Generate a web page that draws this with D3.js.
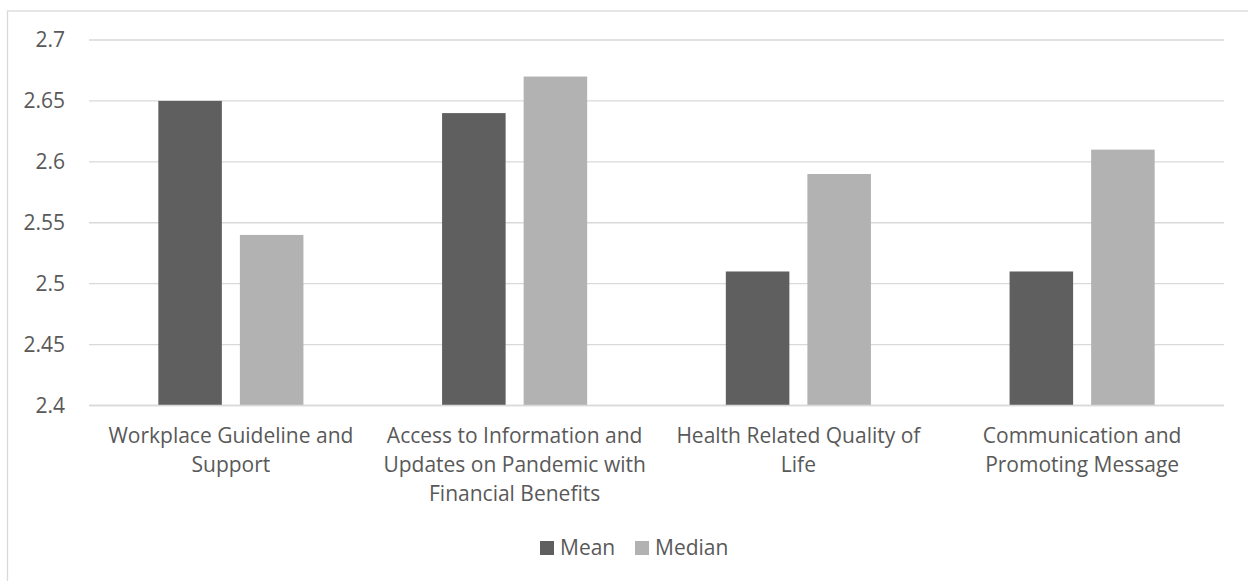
<!DOCTYPE html>
<html><head><meta charset="utf-8">
<script src="https://cdn.jsdelivr.net/npm/d3@7"></script>
<style>body{margin:0;background:#fff}svg{display:block}text{font-family:"Open Sans",sans-serif;fill:#595959}</style>
</head><body>
<svg id="c" width="1248" height="581"></svg>
<script>
const categories = ["Workplace Guideline and Support","Access to Information and Updates on Pandemic with Financial Benefits","Health Related Quality of Life","Communication and Promoting Message"];
const categoryLines = [["Workplace Guideline and","Support"],["Access to Information and","Updates on Pandemic with","Financial Benefits"],["Health Related Quality of","Life"],["Communication and","Promoting Message"]];
const seriesNames = ["Mean","Median"];
const meanValues = [2.65,2.64,2.51,2.51];
const medianValues = [2.54,2.67,2.59,2.61];
const yTicks = [2.4,2.45,2.5,2.55,2.6,2.65,2.7];
const colors = ["#5f5f5f","#b2b2b2"];

const svg = d3.select("#c");
const fs = 21;
svg.append("rect").attr("x",7.5).attr("y",11).attr("width",1300).attr("height",700)
  .attr("fill","none").attr("stroke","#d9d9d9").attr("stroke-width",1.3);

const pL=89,pR=1224,pT=40,pB=405.5;
const x = d3.scaleBand().domain(categories).range([pL,pR]).paddingInner(0).paddingOuter(0);
const inner = d3.scaleBand().domain(seriesNames).range([0,x.bandwidth()]).paddingInner(0.221).paddingOuter(0.85);
const y = d3.scaleLinear().domain([2.4,2.7]).range([pB,pT]);

const grid = svg.append("g");
grid.selectAll("line").data(yTicks).join("line")
  .attr("x1",pL).attr("x2",pR).attr("y1",d=>y(d)).attr("y2",d=>y(d))
  .attr("stroke","#d9d9d9").attr("stroke-width",1.3);

svg.append("g").selectAll("text").data(yTicks).join("text")
  .attr("x",65).attr("y",d=>y(d)).attr("dy","0.35em").attr("text-anchor","end")
  .attr("font-size",fs).text(d=>d3.format("")(d));

const rows = categories.map((c,i)=>({c, vals:[{s:"Mean",v:meanValues[i]},{s:"Median",v:medianValues[i]}]}));
const g = svg.append("g").selectAll("g").data(rows).join("g").attr("transform",d=>`translate(${x(d.c)},0)`);
g.selectAll("rect").data(d=>d.vals).join("rect")
  .attr("x",d=>inner(d.s)).attr("width",inner.bandwidth())
  .attr("y",d=>y(d.v)).attr("height",d=>y(2.4)-y(d.v))
  .attr("fill",(d,i)=>colors[i]);

svg.append("line").attr("x1",pL).attr("x2",pR).attr("y1",y(2.4)).attr("y2",y(2.4)).attr("stroke","#d9d9d9").attr("stroke-width",1.3);

const lab = svg.append("g").selectAll("text").data(categories).join("text")
  .attr("text-anchor","middle").attr("font-size",fs)
  .attr("transform",d=>`translate(${x(d)+x.bandwidth()/2},443)`);
lab.each(function(d,i){
  d3.select(this).selectAll("tspan").data(categoryLines[i]).join("tspan")
    .attr("x",0).attr("y",(t,j)=>j*29).text(t=>t);
});

const legend = svg.append("g");
const lx=[540,635];
seriesNames.forEach((s,i)=>{
  legend.append("rect").attr("x",lx[i]).attr("y",541).attr("width",14).attr("height",14).attr("fill",colors[i]);
  legend.append("text").attr("x",lx[i]+20).attr("y",555).attr("font-size",fs).text(s);
});
</script>
</body></html>
